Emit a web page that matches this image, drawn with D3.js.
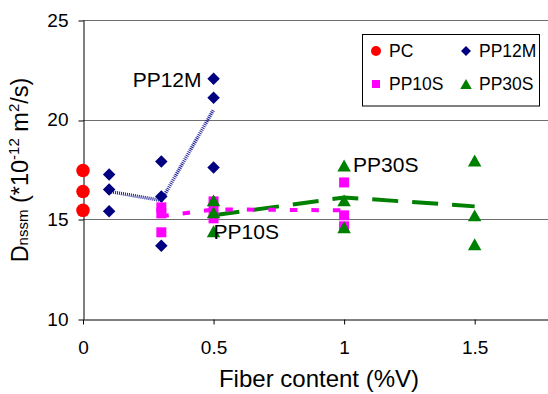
<!DOCTYPE html>
<html>
<head>
<meta charset="utf-8">
<script src="https://cdn.jsdelivr.net/npm/d3@7/dist/d3.min.js"></script>
<style>
  html, body { margin: 0; padding: 0; background: #ffffff; }
  svg { display: block; font-family: "Liberation Sans", Arial, sans-serif; }
</style>
</head>
<body>
<svg id="chart" width="548" height="394"></svg>
<script>
// Fiber content (%V) and measured diffusion coefficients per mix
const xPC = [0, 0, 0];
const yPC = [17.45, 16.4, 15.45];

const xPP12M = [0.1, 0.1, 0.1, 0.3, 0.3, 0.3, 0.5, 0.5, 0.5];
const yPP12M = [17.25, 16.5, 15.4, 17.9, 16.15, 13.67, 22.05, 21.1, 17.6];

const xPP10S = [0.3, 0.3, 0.3, 0.5, 0.5, 0.5, 1, 1, 1];
const yPP10S = [15.6, 15.3, 14.35, 15.9, 15.55, 15.05, 16.85, 15.2, 14.65];

const xPP30S = [0.5, 0.5, 0.5, 1, 1, 1, 1.5, 1.5, 1.5];
const yPP30S = [15.95, 15.35, 14.4, 17.7, 15.95, 14.6, 17.95, 15.2, 13.75];

// Mean curves per mix
const xMeanPP12M = [0.1, 0.3, 0.5];
const yMeanPP12M = [16.4, 15.95, 20.5];
const xMeanPP10S = [0.3, 0.5, 1];
const yMeanPP10S = [15.15, 15.5, 15.45];
const xMeanPP30S = [0.5, 1, 1.5];
const yMeanPP30S = [15.2, 16.1, 15.65];

const xTicks = [0, 0.5, 1, 1.5];
const yTicks = [10, 15, 20, 25];
const legendNames = ["PC", "PP12M", "PP10S", "PP30S"];

const svg = d3.select("#chart");
const x = d3.scaleLinear().domain([0, 1.8]).range([83, 553]);
const y = d3.scaleLinear().domain([10, 25]).range([319, 20]);

const colors = { PC: "#ff0000", PP12M: "#000080", PP10S: "#ff00ff", PP30S: "#008000" };

// marker shapes, centred on the origin
const shapes = {
  PC: s => { const r = s / 2; return `M${r},0A${r},${r} 0 1,1 ${-r},0A${r},${r} 0 1,1 ${r},0Z`; },
  PP12M: s => { const h = s / 2; return `M0,${-h}L${h},0L0,${h}L${-h},0Z`; },
  PP10S: s => { const h = s / 2; return `M${-h},${-h}H${h}V${h}H${-h}Z`; },
  PP30S: s => { const w = s / 2, h = s * 0.44; return `M0,${-h}L${w},${h}L${-w},${h}Z`; }
};
const sizes = { PC: 13.5, PP12M: 12.5, PP10S: 10, PP30S: 13.5 };
const legendSizes = { PC: 10, PP12M: 10, PP10S: 8, PP30S: 11.5 };

// horizontal gridlines
svg.append("g")
  .selectAll("line")
  .data(yTicks.filter(t => t > 10))
  .join("line")
  .attr("x1", x(0)).attr("x2", x(1.8))
  .attr("y1", d => Math.round(y(d)) + 0.5).attr("y2", d => Math.round(y(d)) + 0.5)
  .attr("stroke", "#6e6e6e").attr("stroke-width", 1);

// axes
const yAxis = svg.append("g")
  .attr("transform", `translate(${x(0) + 0.5},0)`)
  .call(d3.axisLeft(y).tickValues(yTicks).tickSize(5).tickSizeOuter(0).tickPadding(10));
const xAxis = svg.append("g")
  .attr("transform", `translate(0,${Math.round(y(10)) + 0.5})`)
  .call(d3.axisBottom(x).tickValues(xTicks).tickSize(5).tickSizeOuter(0).tickPadding(16)
    .tickFormat(d3.format("")));
[xAxis, yAxis].forEach(g => {
  g.select(".domain").attr("stroke", "#000").attr("stroke-width", 1);
  g.selectAll(".tick line").attr("stroke", "#000");
  g.selectAll(".tick text").attr("fill", "#000").style("font-size", "19px")
    .style("font-family", "'Liberation Sans', Arial, sans-serif");
});
yAxis.selectAll(".tick line").attr("transform", d => `translate(0,${Math.round(y(d)) + 0.5 - y(d)})`);

// mean curves
const line = d3.line().x(d => x(d[0])).y(d => y(d[1]));
const zip = (a, b) => a.map((v, i) => [v, b[i]]);

svg.append("path").datum(zip(xMeanPP30S, yMeanPP30S)).attr("d", line)
  .attr("fill", "none").attr("stroke", colors.PP30S).attr("stroke-width", 4)
  .attr("stroke-dasharray", "26,14");
svg.append("path").datum(zip(xMeanPP10S, yMeanPP10S)).attr("d", line)
  .attr("fill", "none").attr("stroke", colors.PP10S).attr("stroke-width", 4)
  .attr("stroke-dasharray", "7.5,14");
svg.append("path").datum(zip(xMeanPP12M, yMeanPP12M)).attr("d", line)
  .attr("fill", "none").attr("stroke", "#1a1a9a").attr("stroke-width", 3.5)
  .attr("stroke-dasharray", "1,1");

// markers
const series = [
  ["PC", xPC, yPC],
  ["PP12M", xPP12M, yPP12M],
  ["PP10S", xPP10S, yPP10S],
  ["PP30S", xPP30S, yPP30S]
];
series.forEach(([name, xs, ys]) => {
  svg.append("g").selectAll("path")
    .data(zip(xs, ys))
    .join("path")
    .attr("transform", d => `translate(${x(d[0])},${y(d[1])})`)
    .attr("d", shapes[name](sizes[name]))
    .attr("fill", colors[name]);
});

// series labels next to their points
const labelStyle = t => t.attr("font-size", 21).attr("fill", "#000");
svg.append("text").attr("x", x(0.5) - 12).attr("y", y(d3.max(yPP12M)) + 8.5)
  .attr("text-anchor", "end").text("PP12M").call(labelStyle);
svg.append("text").attr("x", x(1) + 9).attr("y", y(d3.max(yPP30S.slice(3, 6))) + 6)
  .text("PP30S").call(labelStyle);
svg.append("text").attr("x", x(0.5)).attr("y", y(d3.min(yPP30S.slice(0, 3))) + 8)
  .text("PP10S").call(labelStyle);

// legend
const lg = svg.append("g");
lg.append("rect").attr("x", 362.5).attr("y", 34.5).attr("width", 177).attr("height", 71.5)
  .attr("fill", "#fff").attr("stroke", "#000").attr("stroke-width", 1);
const legendPos = [[376, 51], [466, 51], [376, 84], [466, 84]];
legendNames.forEach((name, i) => {
  const [lx, ly] = legendPos[i];
  lg.append("path").attr("transform", `translate(${lx},${ly})`)
    .attr("d", shapes[name](legendSizes[name])).attr("fill", colors[name]);
  lg.append("text").attr("x", lx + 13).attr("y", ly + 6.3)
    .attr("font-size", 17.5).attr("fill", "#000").text(name);
});

// axis titles
svg.append("text").attr("x", 319).attr("y", 387).attr("text-anchor", "middle")
  .attr("font-size", 24).attr("fill", "#000").text("Fiber content (%V)");

const yt = svg.append("text")
  .attr("transform", "translate(28,170) rotate(-90)")
  .attr("text-anchor", "middle").attr("fill", "#000").attr("font-size", 23.5);
yt.append("tspan").text("D");
yt.append("tspan").attr("font-size", 15).text("nssm");
yt.append("tspan").text(" (*10");
yt.append("tspan").attr("font-size", 15).attr("dy", -9).text("-12");
yt.append("tspan").attr("dy", 9).text(" m");
yt.append("tspan").attr("font-size", 15).attr("dy", -9).text("2");
yt.append("tspan").attr("dy", 9).text("/s)");
</script>
</body>
</html>
